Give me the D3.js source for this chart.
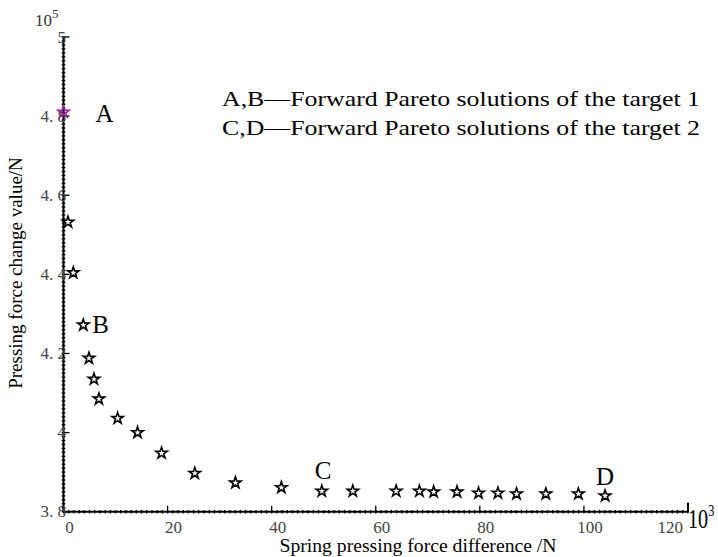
<!DOCTYPE html>
<html>
<head>
<meta charset="utf-8">
<script src="https://cdn.jsdelivr.net/npm/d3@7"></script>
<style>
  body { margin: 0; background: #fff; }
  svg { display: block; }
</style>
</head>
<body>
<div id="graphic"></div>
<script>
// values (x in 10^3 N, y in 10^5 N)
var springDiff = [0, 0.86, 1.88, 3.80, 4.89, 5.85, 6.81, 10.40, 14.23, 18.84, 25.23, 33.03, 41.86,
                  49.64, 55.59, 63.92, 68.39, 71.13, 75.62, 79.76, 83.48, 87.05, 92.69, 98.94, 104.07];
var forceChange = [4.810, 4.532, 4.404, 4.272, 4.188, 4.135, 4.085, 4.036, 4.000, 3.948, 3.897, 3.873, 3.861,
                   3.852, 3.852, 3.852, 3.852, 3.850, 3.850, 3.847, 3.847, 3.845, 3.845, 3.845, 3.840];
var xTicks = [0, 20, 40, 60, 80, 100, 120];
var yTicks = [3.8, 4, 4.2, 4.4, 4.6, 4.8, 5];
var yTickLabels = ["3. 8", "4", "4. 2", "4. 4", "4. 6", "4. 8", "5"];
var pointNames = ["A", "B", "C", "D"];
var pointIndex = [0, 3, 13, 24];
var legendLines = ["A,B\u2014Forward Pareto solutions of the target 1",
                   "C,D\u2014Forward Pareto solutions of the target 2"];

var width = 718, height = 557;
var serif = "'Liberation Serif', 'Times New Roman', serif";

var svg = d3.select("#graphic").append("svg")
  .attr("width", width)
  .attr("height", height);

svg.append("rect").attr("width", width).attr("height", height).attr("fill", "#fff");

var x = d3.scaleLinear().domain([0, 120]).range([63.5, 688]);
var y = d3.scaleLinear().domain([3.8, 5]).range([511.7, 37]);

var axes = svg.append("g");

// minor ticks (dotted look)
axes.selectAll(".xminor")
  .data(d3.range(0, 121, 1))
  .enter().append("line")
  .attr("x1", function(d) { return x(d); })
  .attr("x2", function(d) { return x(d); })
  .attr("y1", y(3.8) - 1.8)
  .attr("y2", y(3.8) + 1.8)
  .attr("stroke", "#000")
  .attr("stroke-width", 1.3);

axes.selectAll(".yminor")
  .data(d3.range(0, 121, 1))
  .enter().append("line")
  .attr("y1", function(d) { return y(3.8 + d * 0.01); })
  .attr("y2", function(d) { return y(3.8 + d * 0.01); })
  .attr("x1", x(0) - 1.8)
  .attr("x2", x(0) + 1.8)
  .attr("stroke", "#000")
  .attr("stroke-width", 1.3);

// axis lines
axes.append("line")
  .attr("x1", x(0)).attr("x2", x(120))
  .attr("y1", y(3.8)).attr("y2", y(3.8))
  .attr("stroke", "#000").attr("stroke-width", 2);
axes.append("line")
  .attr("x1", x(0)).attr("x2", x(0))
  .attr("y1", y(3.8)).attr("y2", y(5))
  .attr("stroke", "#000").attr("stroke-width", 2);

// major ticks, pointing inward
axes.selectAll(".xmajor")
  .data(xTicks)
  .enter().append("line")
  .attr("x1", function(d) { return x(d); })
  .attr("x2", function(d) { return x(d); })
  .attr("y1", y(3.8))
  .attr("y2", function(d) { return y(3.8) - (d == 120 ? 9 : 6); })
  .attr("stroke", "#000")
  .attr("stroke-width", function(d) { return d == 120 ? 2 : 1.3; });

axes.selectAll(".ymajor")
  .data(yTicks)
  .enter().append("line")
  .attr("y1", function(d) { return y(d); })
  .attr("y2", function(d) { return y(d); })
  .attr("x1", x(0))
  .attr("x2", x(0) + 6)
  .attr("stroke", "#000")
  .attr("stroke-width", 1.3);

// tick labels (sit a little right of their ticks, as in the source)
axes.selectAll(".xlab")
  .data(xTicks)
  .enter().append("text")
  .attr("x", function(d) { return d == 120 ? x(d) - 5 : x(d) + 6; })
  .attr("y", 533)
  .attr("text-anchor", function(d) { return d == 120 ? "end" : "middle"; })
  .attr("font-family", serif)
  .attr("font-size", 17)
  .attr("fill", "#444")
  .text(function(d) { return d; });

axes.selectAll(".ylab")
  .data(yTicks)
  .enter().append("text")
  .attr("x", 66)
  .attr("y", function(d) { return y(d) + 5.5; })
  .attr("text-anchor", "end")
  .attr("font-family", serif)
  .attr("font-size", 17)
  .attr("fill", "#444")
  .attr("xml:space", "preserve")
  .style("white-space", "pre")
  .text(function(d, i) { return yTickLabels[i]; });

// exponent labels
var e5 = svg.append("text")
  .attr("x", 35).attr("y", 26)
  .attr("font-family", serif).attr("font-size", 17).attr("fill", "#333");
e5.append("tspan").text("10");
e5.append("tspan").attr("dy", -8).attr("font-size", 13).text("5");

var e3 = svg.append("text")
  .attr("transform", "translate(688,528) scale(0.72,1)")
  .attr("font-family", serif).attr("font-size", 28);
e3.append("tspan").text("10");
e3.append("tspan").attr("dy", -12).attr("font-size", 17).text("3");

// axis titles
svg.append("text")
  .attr("x", 418).attr("y", 552)
  .attr("text-anchor", "middle")
  .attr("font-family", serif).attr("font-size", 18)
  .attr("textLength", 277)
  .attr("lengthAdjust", "spacingAndGlyphs")
  .text("Spring pressing force difference /N");

svg.append("text")
  .attr("transform", "translate(22,273) rotate(-90)")
  .attr("text-anchor", "middle")
  .attr("font-family", serif).attr("font-size", 19)
  .text("Pressing force change value/N");

// star markers
var star = d3.symbol().type(d3.symbolStar).size(40);
svg.append("g")
  .selectAll("path")
  .data(springDiff)
  .enter().append("path")
  .attr("transform", function(d, i) { return "translate(" + x(d) + "," + y(forceChange[i]) + ")"; })
  .attr("d", star)
  .attr("fill", "none")
  .attr("stroke", function(d, i) { return i == 0 ? "#a0209a" : "#000"; })
  .attr("stroke-width", 1.6);

// point labels
var labelOffset = [[32, 10], [9, 8], [-7, -12], [-9, -11]];
svg.append("g")
  .selectAll("text")
  .data(pointNames)
  .enter().append("text")
  .attr("x", function(d, i) { return x(springDiff[pointIndex[i]]) + labelOffset[i][0]; })
  .attr("y", function(d, i) { return y(forceChange[pointIndex[i]]) + labelOffset[i][1]; })
  .attr("font-family", serif).attr("font-size", 25)
  .text(function(d) { return d; });

// legend text
svg.append("g")
  .selectAll("text")
  .data(legendLines)
  .enter().append("text")
  .attr("x", 222)
  .attr("y", function(d, i) { return 106 + i * 29; })
  .attr("font-family", serif).attr("font-size", 22)
  .attr("textLength", 478)
  .attr("lengthAdjust", "spacingAndGlyphs")
  .text(function(d) { return d; });
</script>
</body>
</html>
